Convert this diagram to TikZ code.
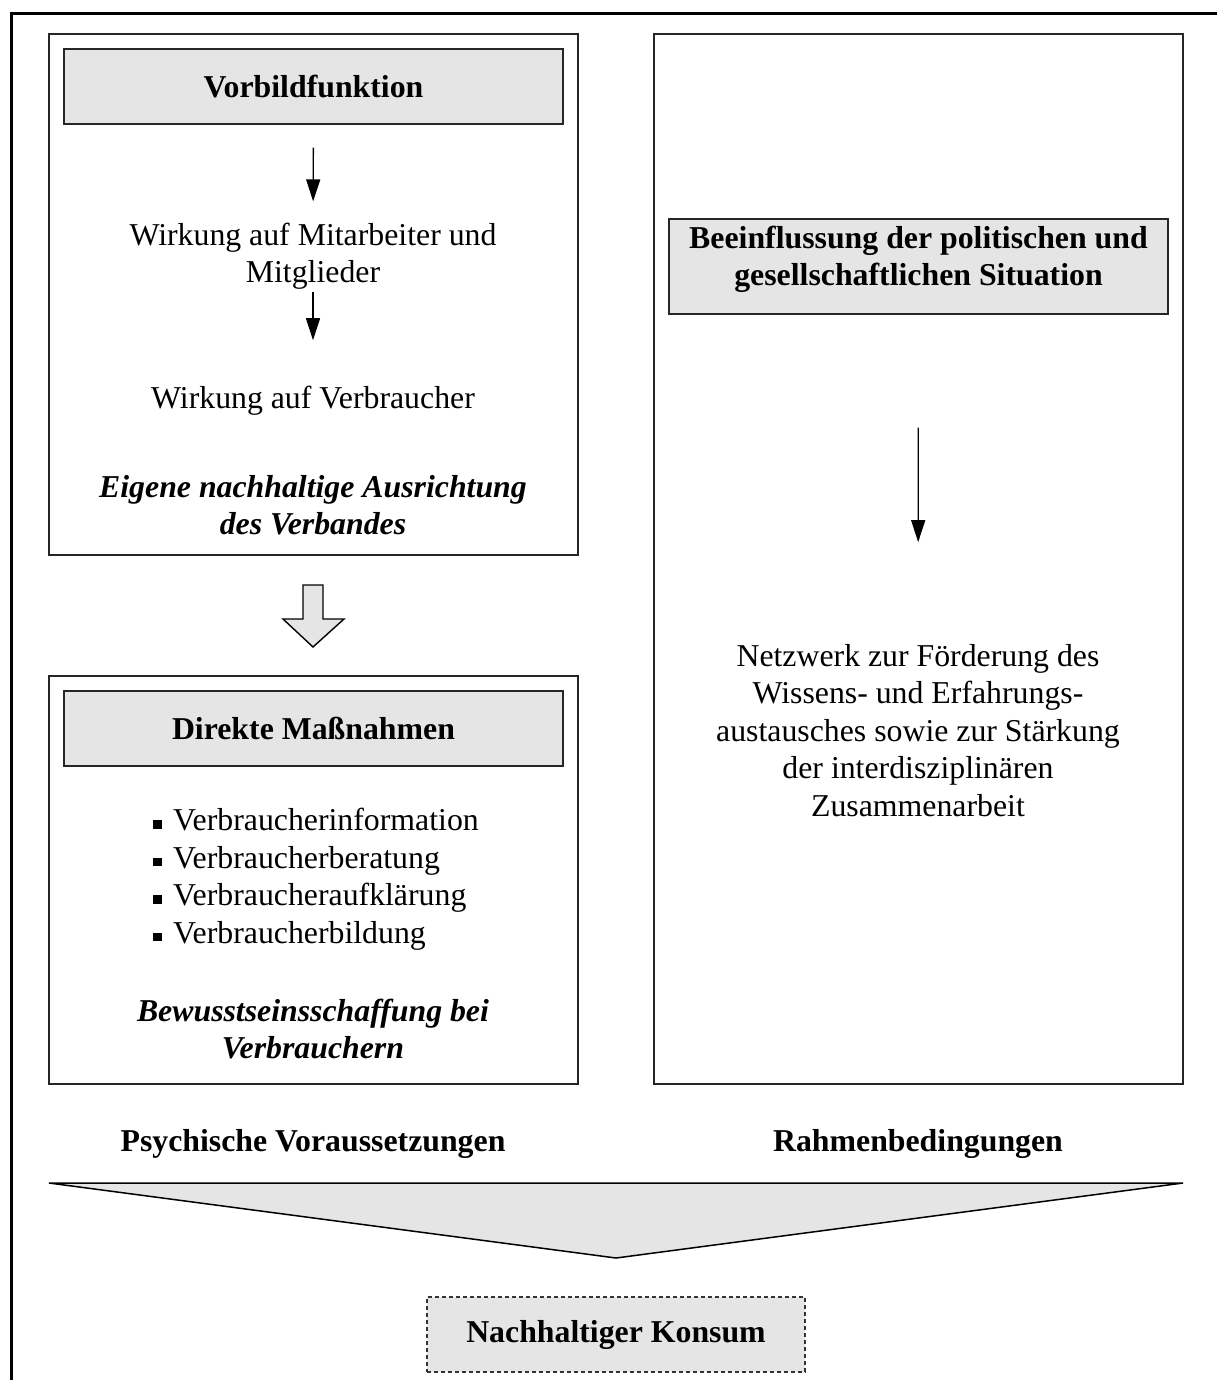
\documentclass[tikz,border=0pt]{standalone}
\usepackage{fontspec}
\setmainfont{Liberation Serif}
\usetikzlibrary{arrows.meta}
\definecolor{boxgray}{HTML}{E5E5E5}
\newcommand{\sqbullet}{\rule[0.06em]{0.27em}{0.27em}\hspace{0.36em}}
\tikzset{
  every node/.style={font=\fontsize{31.8}{37.5}\selectfont, inner sep=0pt},
  panel/.style={draw=black!85, line width=1.3pt},
  titlebox/.style={draw=black!85, line width=1.3pt, fill=boxgray,
    minimum width=499pt, minimum height=75pt, align=center, font=\fontsize{31.8}{37.5}\selectfont\bfseries},
  plain/.style={align=center},
  emph/.style={align=center, font=\fontsize{31.8}{37.5}\selectfont\bfseries\itshape},
  label/.style={font=\fontsize{31.8}{37.5}\selectfont\bfseries},
  arr/.style={line width=1.3pt, -{Triangle[width=14pt,length=22pt]}},
  hollow/.style={draw=black, line width=1.4pt, fill=boxgray, line join=miter},
}
\begin{document}
\begin{tikzpicture}[x=1pt,y=-1pt]
\useasboundingbox (0,0) rectangle (1217,1380);
% outer frame (left and top edges only)
\draw[line width=3pt] (11,1380) -- (11,14) -- (1217,14);

% left column, upper panel
\draw[panel] (49,34) rectangle (578,555);
\node[titlebox] (vf) at (313.5,86.5) {Vorbildfunktion};
\node[plain] (w1) at (313,256) {Wirkung auf Mitarbeiter und\\Mitglieder};
\node[plain] (w2) at (313,401) {Wirkung auf Verbraucher};
\node[emph] (eig) at (313,505) {Eigene nachhaltige Ausrichtung\\des Verbandes};
\draw[arr, shorten <=23pt, shorten >=21pt] (vf.south) -- (w1.north);
\draw[arr, shorten <=2pt, shorten >=46pt] (w1.south) -- (w2.north);

% hollow block arrow between the panels
\draw[hollow] (303,585) -- (323,585) -- (323,619) -- (344,619) -- (313,647)
  -- (283,619) -- (303,619) -- cycle;

% left column, lower panel
\draw[panel] (49,676) rectangle (578,1084);
\node[titlebox] (dm) at (313.5,728.5) {Direkte Maßnahmen};
\node[align=left, anchor=west] (list) at (153,879) {%
  \sqbullet Verbraucherinformation\\
  \sqbullet Verbraucherberatung\\
  \sqbullet Verbraucheraufklärung\\
  \sqbullet Verbraucherbildung};
\node[emph] (bew) at (313,1029) {Bewusstseinsschaffung bei\\Verbrauchern};

% right column panel
\draw[panel] (654,34) rectangle (1183,1084);
\node[titlebox, minimum height=95pt] (bee) at (918.5,266.5) {};
\node[align=center, font=\fontsize{31.8}{37.5}\selectfont\bfseries] (beet) at (918.5,259.5)
  {Beeinflussung der politischen und\\gesellschaftlichen Situation};
\node[plain] (netz) at (918,730.5) {Netzwerk zur Förderung des\\Wissens- und Erfahrungs-\\austausches sowie zur Stärkung\\der interdisziplinären\\Zusammenarbeit};
\draw[arr, shorten <=113pt, shorten >=102pt] (bee.south) -- (netz.north);

% column captions
\node[label] (psy) at (313,1144) {Psychische Voraussetzungen};
\node[label] (rah) at (918,1144) {Rahmenbedingungen};

% funnel towards the goal
\draw[hollow, line width=1.5pt] (49,1183) -- (1183,1183) -- (616,1258) -- cycle;

% goal
\node[draw=black!80, line width=1.2pt, dash pattern=on 4pt off 3pt, fill=boxgray,
  minimum width=378pt, minimum height=75pt, label] (kon) at (616,1334.5) {\raisebox{-3pt}{Nachhaltiger Konsum}};
\end{tikzpicture}
\end{document}
